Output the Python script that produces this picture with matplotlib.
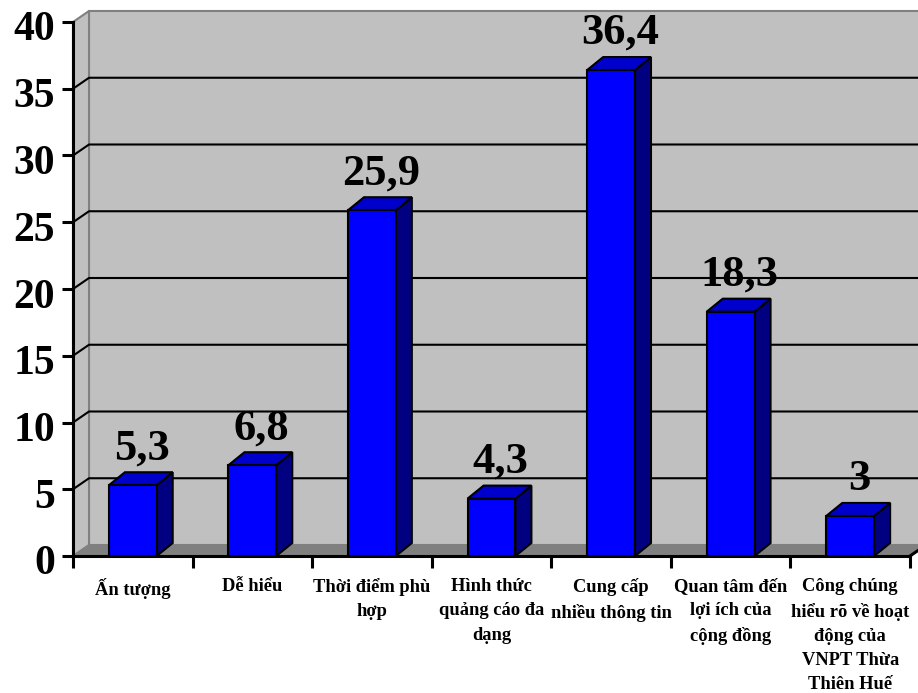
import numpy as np
import matplotlib
matplotlib.use('Agg')
import matplotlib.pyplot as plt
from matplotlib.patches import Polygon
from matplotlib.transforms import ScaledTranslation

# Data
categories = [
    'Ấn tượng',
    'Dễ hiểu',
    'Thời điểm phù\nhợp',
    'Hình thức\nquảng cáo đa\ndạng',
    'Cung cấp\nnhiều thông tin',
    'Quan tâm đến\nlợi ích của\ncộng đồng',
    'Công chúng\nhiểu rõ về hoạt\nđộng của\nVNPT Thừa\nThiên Huế',
]
values = [5.3, 6.8, 25.9, 4.3, 36.4, 18.3, 3]
y_ticks = [0, 5, 10, 15, 20, 25, 30, 35, 40]

plt.rcParams['font.family'] = ['Liberation Serif', 'DejaVu Serif']
plt.rcParams['font.weight'] = 'bold'

fig = plt.figure(figsize=(9.18, 6.93), dpi=100)
ax = fig.add_axes([73 / 918, 137 / 693, 837 / 918, 534 / 693])
n = len(categories)
ax.set_xlim(0, n)
ax.set_ylim(y_ticks[0], y_ticks[-1])
ax.patch.set_visible(False)
ax.spines['top'].set_visible(False)
ax.spines['right'].set_visible(False)
for s in ['left', 'bottom']:
    ax.spines[s].set_linewidth(2.2)
    ax.spines[s].set_zorder(2.5)

# 3D depth offsets in pixels
WALL = (16, 11)
BAR = (16, 13)


def back(x, y, off):
    '''Shift a data point backwards by a pixel offset'''
    px, py = ax.transData.transform((x, y))
    return tuple(ax.transData.inverted().transform((px + off[0], py + off[1])))


ymax = y_ticks[-1]
# Back wall, side wall and floor
wall = [back(0, 0, WALL), back(n, 0, WALL), back(n, ymax, WALL), back(0, ymax, WALL)]
ax.add_patch(Polygon(wall, closed=True, facecolor='#C0C0C0', edgecolor='#808080',
                     lw=1.5, zorder=0.5, clip_on=False))
side = [(0, 0), (0, ymax), back(0, ymax, WALL), back(0, 0, WALL)]
ax.add_patch(Polygon(side, closed=True, facecolor='#C0C0C0', edgecolor='#808080',
                     lw=1.5, zorder=0.6, clip_on=False))
floor = [(0, 0), (n, 0), back(n, 0, WALL), back(0, 0, WALL)]
ax.add_patch(Polygon(floor, closed=True, facecolor='#808080', edgecolor='#808080',
                     lw=1.0, zorder=0.7, clip_on=False))
fx, fy = back(n, 0, WALL)
ax.plot([n, fx], [0, fy], color='black', lw=2.2, zorder=2.5, clip_on=False)

# Gridlines
for t in y_ticks[1:-1]:
    bx0, by0 = back(0, t, WALL)
    bx1, by1 = back(n, t, WALL)
    ax.plot([0, bx0, bx1], [t, by0, by1], color='black', lw=1.5, zorder=1,
            clip_on=False)

# Bars
for i, v in enumerate(values):
    x0, x1 = i + 0.3, i + 0.7
    front = [(x0, 0), (x1, 0), (x1, v), (x0, v)]
    top = [(x0, v), (x1, v), back(x1, v, BAR), back(x0, v, BAR)]
    right = [(x1, 0), back(x1, 0, BAR), back(x1, v, BAR), (x1, v)]
    for pts, col in [(right, '#000080'), (top, '#0000CC'), (front, '#0000FF')]:
        ax.add_patch(Polygon(pts, closed=True, facecolor=col, edgecolor='black',
                             lw=1.5, joinstyle='miter', zorder=3, clip_on=False))
    label = f'{v:g}'.replace('.', ',')
    ax.annotate(label, (i + 0.5, v), xytext=(9, 26), textcoords='offset pixels',
                ha='center', va='baseline', fontsize=32, fontweight='bold',
                zorder=4, annotation_clip=False)

# Axes ticks and labels
ax.set_yticks(y_ticks)
ax.tick_params(axis='y', length=8, width=2.2, labelsize=30, pad=5)
shift_down = ScaledTranslation(0, -4 / 100, fig.dpi_scale_trans)
for lbl in ax.get_yticklabels():
    lbl.set_transform(lbl.get_transform() + shift_down)
ax.set_xticks(range(n + 1), [''] * (n + 1))
ax.tick_params(axis='x', which='major', length=8.5, width=2.2)
ax.set_xticks(np.arange(n) + 0.5, categories, minor=True)
ax.tick_params(axis='x', which='minor', length=0, pad=16, labelsize=13.3)
for lbl in ax.get_xticklabels(minor=True):
    lbl.set_linespacing(1.55)

plt.savefig('out.png', dpi=100)
